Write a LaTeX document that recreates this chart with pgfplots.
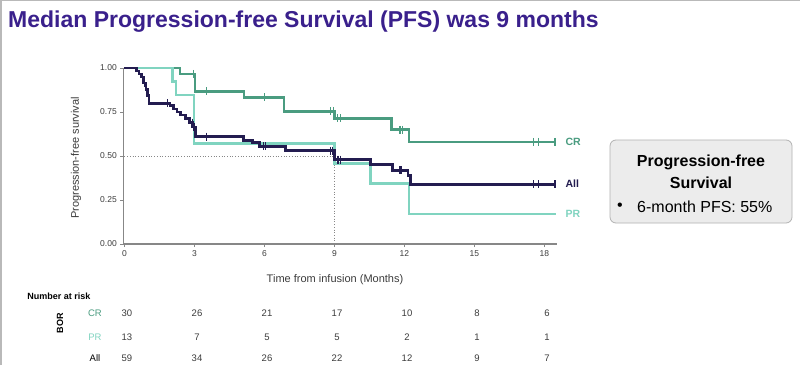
\documentclass[border=0pt]{standalone}
\usepackage{pgfplots}
\pgfplotsset{compat=1.18}
\usepackage{fontspec}
\setmainfont{Liberation Sans}
\definecolor{crc}{RGB}{74,156,128}
\definecolor{prc}{RGB}{128,212,192}
\definecolor{allc}{RGB}{35,28,80}
\definecolor{titlec}{RGB}{58,32,140}
\definecolor{axc}{RGB}{135,135,135}
\definecolor{txtc}{RGB}{60,60,60}
\begin{document}
\begin{tikzpicture}[x=1pt,y=1pt]
\path[use as bounding box] (0,0) rectangle (800,365);
\fill[white] (0,0) rectangle (800,365);
\draw[gray!55, line width=1.5pt] (0.75,0) -- (0.75,364.25) -- (800,364.25);
\node[anchor=base west, text=titlec, font=\fontsize{23}{26}\selectfont\bfseries, inner sep=0] at (8,337) {Median Progression-free Survival (PFS) was 9 months};

\begin{axis}[
  at={(123.3pt,121pt)}, anchor=south west,
  scale only axis, width=434pt, height=176pt,
  xmin=-0.05, xmax=18.55, ymin=0, ymax=1,
  axis x line=bottom, axis y line=left,
  axis line style={-, axc, line width=1.3pt},
  xtick={0,3,...,18}, ytick={0,0.25,0.5,0.75,1},
  yticklabel style={/pgf/number format/.cd, fixed, fixed zerofill, precision=2},
  /pgf/number format/assume math mode=true,
  tick label style={font=\fontsize{8.5}{10}\selectfont, text=txtc},
  tick style={axc, line width=0.8pt}, tick align=outside, major tick length=3pt,
  clip=false,
]
\addplot[axc, dotted, line width=0.7pt] coordinates {(0,0.5) (9,0.5) (9,0)};
% CR
\addplot[crc, line width=2.6pt, const plot, mark=none] coordinates {
(0,1) (2.38,0.967) (3.02,0.867) (5.12,0.833) (6.84,0.753) (9.0,0.714) (11.45,0.649) (12.2,0.58) (18.5,0.58)};
\addplot[crc, only marks, mark=|, mark size=4pt, mark options={line width=1.1pt}] coordinates {
(2.95,0.967) (3.52,0.867) (6.0,0.833) (8.84,0.753) (8.95,0.753) (9.12,0.714) (9.24,0.714) (11.81,0.649) (11.92,0.649) (17.53,0.58) (17.75,0.58) (18.45,0.58)};
% PR
\addplot[prc, line width=2.6pt, const plot, mark=none] coordinates {
(0,1) (2.05,0.923) (2.2,0.846) (2.98,0.571) (9.0,0.457) (10.55,0.343) (12.2,0.171) (18.5,0.171)};
% All
\addplot[allc, line width=2.8pt, const plot, mark=none] coordinates {
(0,1) (0.52,0.983) (0.62,0.966) (0.72,0.949) (0.82,0.915) (0.92,0.88) (0.98,0.845) (1.05,0.80) (1.95,0.785) (2.1,0.767) (2.25,0.75) (2.4,0.733) (2.6,0.715) (2.8,0.69) (2.9,0.665) (3.05,0.61) (5.1,0.59) (5.5,0.575) (5.8,0.555) (6.9,0.53) (9.0,0.48) (10.55,0.451) (11.5,0.419) (12.15,0.388) (12.25,0.34) (18.5,0.34)};
\addplot[allc, only marks, mark=|, mark size=4pt, mark options={line width=1.1pt}] coordinates {
(0.87,0.915) (1.85,0.80) (2.92,0.69) (2.96,0.665) (3.0,0.665) (3.5,0.61) (5.95,0.555) (6.05,0.555) (8.84,0.53) (8.91,0.53) (9.12,0.48) (9.19,0.48) (9.27,0.48) (11.81,0.419) (11.88,0.419) (17.53,0.34) (17.75,0.34) (18.45,0.34)};
\node[anchor=west, text=crc, font=\fontsize{10.5}{12}\selectfont\bfseries] at (axis cs:18.75,0.58) {CR};
\node[anchor=west, text=allc, font=\fontsize{10.5}{12}\selectfont\bfseries] at (axis cs:18.75,0.34) {All};
\node[anchor=west, text=prc, font=\fontsize{10.5}{12}\selectfont\bfseries] at (axis cs:18.75,0.171) {PR};
\end{axis}

% axis labels
\node[rotate=90, font=\fontsize{11}{13}\selectfont, text=txtc] at (76,207) {Progression-free survival};
\node[font=\fontsize{11}{13}\selectfont, text=txtc] at (335,85) {Time from infusion (Months)};

% risk table
\node[font=\fontsize{9}{11}\selectfont\bfseries] at (59,69) {Number at risk};
\node[rotate=90, font=\fontsize{9}{11}\selectfont\bfseries] at (60,42) {BOR};
\node[font=\fontsize{9.5}{11}\selectfont, text=crc] at (95,52) {CR};
\node[font=\fontsize{9.5}{11}\selectfont, text=prc] at (95,28) {PR};
\node[font=\fontsize{9.5}{11}\selectfont] at (95,7) {All};
\foreach \v [count=\i from 0] in {30,26,21,17,10,8,6} {
  \node[font=\fontsize{9.5}{11}\selectfont, text=txtc] at (127+70*\i,52) {\v};
}
\foreach \v [count=\i from 0] in {13,7,5,5,2,1,1} {
  \node[font=\fontsize{9.5}{11}\selectfont, text=txtc] at (127+70*\i,28) {\v};
}
\foreach \v [count=\i from 0] in {59,34,26,22,12,9,7} {
  \node[font=\fontsize{9.5}{11}\selectfont, text=txtc] at (127+70*\i,7) {\v};
}

% info box
\draw[rounded corners=6pt, fill=gray!15, draw=gray!60, line width=0.8pt] (610,142) rectangle (792,225);
\node[font=\fontsize{16}{19}\selectfont\bfseries] at (701,203) {Progression-free};
\node[font=\fontsize{16}{19}\selectfont\bfseries] at (701,182) {Survival};
\node[font=\fontsize{16}{19}\selectfont] at (620,158) {\textbullet};
\node[anchor=west, font=\fontsize{16}{19}\selectfont, inner sep=0] at (637,158) {6-month PFS: 55\%};
\end{tikzpicture}
\end{document}
